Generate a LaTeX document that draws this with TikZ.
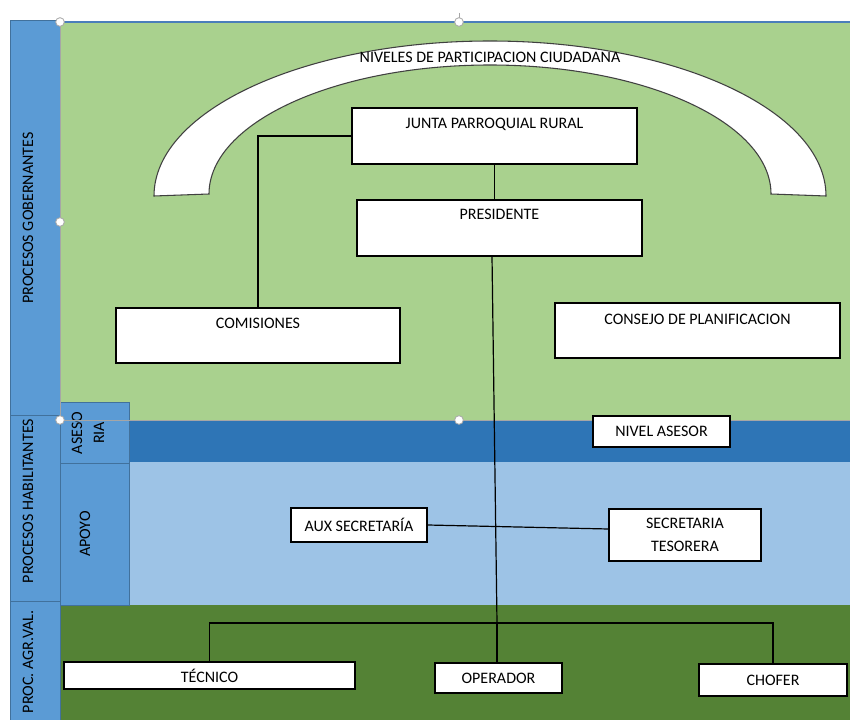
\documentclass[tikz,border=0pt]{standalone}
\usepackage{fontspec}
\setmainfont{Carlito}
\usetikzlibrary{calc}
\definecolor{colblue}{HTML}{5B9BD5}
\definecolor{colborder}{HTML}{41719C}
\definecolor{lgreen}{HTML}{A9D18E}
\definecolor{dblue}{HTML}{2E75B6}
\definecolor{lblue}{HTML}{9DC3E6}
\definecolor{dgreen}{HTML}{548235}
\definecolor{handlegray}{HTML}{A6A6A6}
\definecolor{topline}{HTML}{4A7EBB}
\begin{document}
\begin{tikzpicture}[x=0.75pt,y=-0.75pt,
  font=\fontsize{12}{14}\selectfont,
  box/.style={draw=black, fill=white, line width=0.9pt, inner sep=0pt, align=center},
  boxwh/.style 2 args={box, minimum width=#1*0.75pt, minimum height=#2*0.75pt},
  conn/.style={draw=black, line width=0.9pt},
  side/.style={draw=colborder, fill=colblue, line width=0.6pt},
  band/.style={draw=none},
  vtext/.style={rotate=90, inner sep=0pt, align=center},
  txt/.style={inner sep=0pt},
  handle/.style={draw=handlegray, fill=white, circle, inner sep=0pt, minimum size=6.5pt, line width=0.6pt},
  frame/.style={draw=handlegray, line width=0.6pt}]
\useasboundingbox (0,0) rectangle (850,720);
\clip (0,0) rectangle (850,720);
\fill[white] (0,0) rectangle (850,720);

% background bands
\fill[lgreen] (60,22) rectangle (850,420);
\fill[dblue] (129,421) rectangle (850,462);
\fill[lblue] (129,462) rectangle (850,605);
\fill[dgreen] (60,605) rectangle (850,725);

% left column
\path[side] (10,20) rectangle (60,415);
\path[side] (10,415) rectangle (60,601);
\path[side] (10,601) rectangle (60,725);
\path[side] (60,402) rectangle (129,463);
\path[side] (60,463) rectangle (129,605);

\node[vtext] (gob) at (28,218) {PROCESOS GOBERNANTES};
\node[vtext] (hab) at (28,501) {PROCESOS HABILITANTES};
\node[vtext, anchor=east] (agr) at (28,610) {PROC. AGR.VAL.};
\node[vtext, font=\fontsize{12}{16.5}\selectfont] (ases) at (88,433) {ASESO\\RIA};
\node[vtext] (apoyo) at (85,534) {APOYO};

% frame lines
\draw[topline, line width=0.9pt] (60,22) -- (850,22);
\draw[frame] (60,22) -- (60,420) -- (850,420);
\draw[frame] (459,13) -- (459,22);

% arc shape
\path[draw=black!75, fill=white, line width=0.8pt]
  (154,196) arc[start angle=180, end angle=0, x radius=252pt, y radius=116.25pt]
  -- (771,194) arc[start angle=0, end angle=180, x radius=210.75pt, y radius=96.75pt]
  -- cycle;
\node[txt] (niveles) at (490,57) {NIVELES DE PARTICIPACION CIUDADANA};

% boxes
\node[boxwh={285}{56}] (junta) at (494.5,136) {};
\node[txt] (juntaT) at ($(junta.north)+(0,17)$) {JUNTA PARROQUIAL RURAL};
\node[boxwh={285}{56}] (pres) at (499.5,228) {};
\node[txt] (presT) at ($(pres.north)+(0,15)$) {PRESIDENTE};
\node[boxwh={284}{55}] (comis) at (258,335.5) {};
\node[txt] (comisT) at ($(comis.north)+(0,16)$) {COMISIONES};
\node[boxwh={285}{55}] (consejo) at (697.5,330.5) {};
\node[txt] (consejoT) at ($(consejo.north)+(0,17)$) {CONSEJO DE PLANIFICACION};

% connectors
\coordinate (pb) at (492,256);
\coordinate (barmid) at (497,623);
\draw[conn] (junta.south) -- (junta.south |- pres.north);
\draw[conn] (junta.west) -| (comis.north);
\draw[conn] (pb) -- (barmid);

\node[boxwh={137}{31}] (asesor) at (661.5,431.5) {NIVEL ASESOR};
\node[boxwh={136}{34}] (aux) at (359,525) {AUX SECRETARÍA};
\node[boxwh={152}{52}, font=\fontsize{12}{17}\selectfont] (sec) at (685,535) {SECRETARIA\\TESORERA};
\draw[conn] (aux.east) -- ($(sec.west)+(0,-6)$);

\node[boxwh={291}{27}] (tec) at (209.5,675.5) {TÉCNICO};
\node[boxwh={127}{30}] (oper) at (498.5,678) {OPERADOR};
\node[boxwh={148}{32}] (chofer) at (773,680) {CHOFER};
\draw[conn] (tec.north) -- (tec.north |- barmid) -- (chofer.north |- barmid) -- (chofer.north);
\draw[conn] (barmid) -- (barmid |- oper.north);

% selection handles
\node[handle] (h1) at (60,22) {};
\node[handle] (h2) at (459,22) {};
\node[handle] (h3) at (60,222) {};
\node[handle] (h4) at (60,420) {};
\node[handle] (h5) at (459,420) {};
\end{tikzpicture}
\end{document}
